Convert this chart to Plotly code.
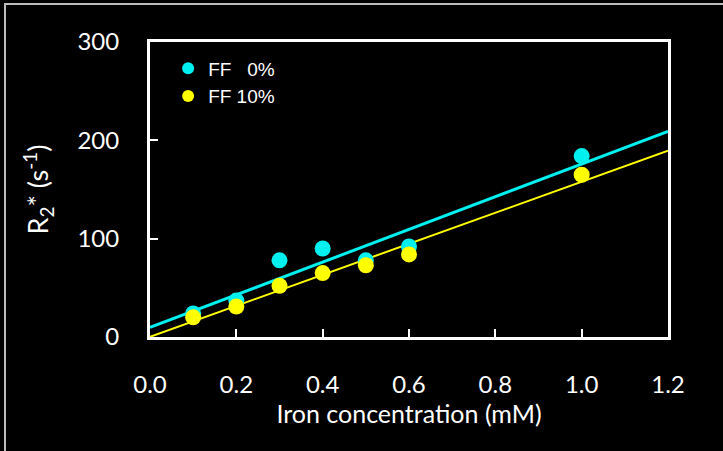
import numpy as np
import plotly.graph_objects as go

iron_mM = [0.1, 0.2, 0.3, 0.4, 0.5, 0.6, 1.0]
r2_ff0 = [24, 37, 78, 90, 78, 92, 184]
r2_ff10 = [20, 31, 52, 65, 73, 84, 165]
series_names = ["FF   0%", "FF 10%"]
x_ticks = [0.0, 0.2, 0.4, 0.6, 0.8, 1.0, 1.2]
x_tick_labels = ["0.0", "0.2", "0.4", "0.6", "0.8", "1.0", "1.2"]
y_ticks = [0, 100, 200, 300]
fit_x = [0.0, 1.2]

CYAN = "#00f0f0"
YELLOW = "#ffff00"

fig = go.Figure()
for ys, name, col, lw in [(r2_ff0, series_names[0], CYAN, 3), (r2_ff10, series_names[1], YELLOW, 2)]:
    slope, icpt = np.polyfit(iron_mM, ys, 1)
    fx = np.array(fit_x)
    fig.add_trace(go.Scatter(x=fx, y=slope * fx + icpt, mode="lines",
                             line=dict(color=col, width=lw), showlegend=False,
                             hoverinfo="skip"))
for ys, name, col in [(r2_ff0, series_names[0], CYAN), (r2_ff10, series_names[1], YELLOW)]:
    fig.add_trace(go.Scatter(x=iron_mM, y=ys, mode="markers", name=name,
                             marker=dict(color=col, size=16, line=dict(width=0))))

FONT = "Lato, Open Sans, sans-serif"
tickfont = dict(family=FONT, size=24, color="white")
fig.update_layout(
    width=723, height=451,
    paper_bgcolor="black", plot_bgcolor="black",
    margin=dict(l=150, r=55, t=42, b=114),
    font=dict(color="white"),
    legend=dict(x=0.035, y=0.975, xanchor="left", yanchor="top",
                bgcolor="rgba(0,0,0,0)", font=dict(family="Liberation Sans, Arial", size=19, color="white"),
                itemsizing="constant", tracegroupgap=6),
    xaxis=dict(range=[0, 1.2], tickvals=x_ticks, ticktext=x_tick_labels,
               ticks="inside", ticklen=8, tickwidth=2, tickcolor="white",
               ticklabelstandoff=24,
               showgrid=False, zeroline=False, showline=True, linecolor="white",
               linewidth=3, mirror=True, tickfont=tickfont,
               title=dict(text="Iron concentration (mM)", standoff=1,
                          font=dict(family=FONT, size=25, color="white"))),
    yaxis=dict(range=[0, 300], tickvals=y_ticks,
               ticks="inside", ticklen=8, tickwidth=2, tickcolor="white",
               ticklabelstandoff=23,
               showgrid=False, zeroline=False, showline=True, linecolor="white",
               linewidth=3, mirror=True, tickfont=tickfont,
               title=dict(text="R<sub>2</sub>* (s<sup>-1</sup>)", standoff=21,
                          font=dict(family=FONT, size=27, color="white"))),
    shapes=[dict(type="rect", xref="paper", yref="paper",
                 x0=(5 - 150) / 518, x1=1.2, y0=-0.5, y1=(337 - 4) / 295,
                 line=dict(color="#bbbbbb", width=2), fillcolor="rgba(0,0,0,0)", layer="below")],
)

fig.write_html("out.html", config={"displayModeBar": False},
               post_script="document.body.style.margin='0';")
